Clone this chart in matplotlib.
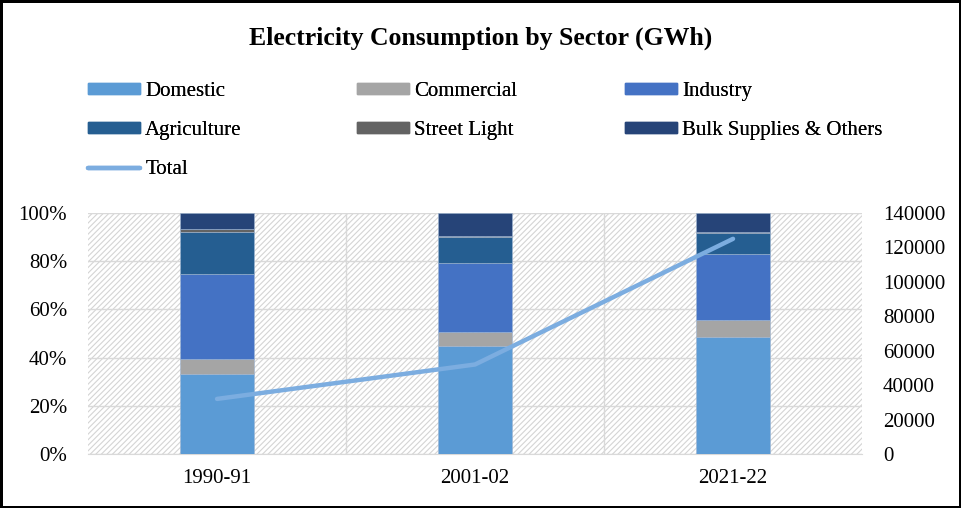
import matplotlib.pyplot as plt
import numpy as np
from matplotlib.lines import Line2D
from matplotlib.patches import Patch, Rectangle

plt.rcParams['font.family'] = ['Liberation Serif', 'DejaVu Serif']
plt.rcParams['hatch.color'] = '#d4d4d4'
plt.rcParams['hatch.linewidth'] = 0.8

years = ['1990-91', '2001-02', '2021-22']
sectors = ['Domestic', 'Commercial', 'Industry', 'Agriculture',
           'Street Light', 'Bulk Supplies & Others']
domestic = [33.0, 44.8, 48.5]
commercial = [6.6, 5.7, 7.3]
industry = [35.1, 28.9, 27.1]
agriculture = [17.5, 10.5, 8.7]
street_light = [1.0, 0.5, 0.4]
bulk = [6.8, 9.6, 8.0]
total = [32000, 52000, 125000]

colors = ['#5b9bd5', '#a5a5a5', '#4472c4', '#255e91', '#636363', '#264478']
line_color = '#7cade0'
fs = 15

fig = plt.figure(figsize=(9.61, 5.08), dpi=100)
fig.patch.set_edgecolor('black')
fig.patch.set_linewidth(2.5)

ax = fig.add_axes([0.0916, 0.1063, 0.8054, 0.4744])
ax.patch.set_facecolor('white')
ax.add_patch(Rectangle((0, 0), 1, 1, transform=ax.transAxes, facecolor='none',
                       edgecolor='#d4d4d4', hatch='//////', linewidth=0, zorder=0))

x = np.arange(len(years))
bottom = np.zeros(len(years))
for vals, c, name in zip([domestic, commercial, industry, agriculture, street_light, bulk],
                         colors, sectors):
    ax.bar(x, vals, 0.29, bottom=bottom, color=c, edgecolor='#9fb6d3',
           linewidth=0.4, zorder=3, label=name)
    bottom += np.array(vals)

ax.set_xlim(-0.5, 2.5)
ax.set_ylim(0, 100)
ax.set_yticks(np.arange(0, 101, 20))
ax.set_yticklabels([f'{v}%' for v in range(0, 101, 20)])
ax.set_xticks(x)
ax.set_xticklabels(years)
ax.set_xticks([0.5, 1.5], minor=True)
ax.grid(axis='y', color='#d9d9d9', linewidth=1, zorder=1)
ax.grid(axis='x', which='minor', color='#d9d9d9', linewidth=1, zorder=1)
ax.tick_params(axis='y', which='both', length=0, labelsize=fs, pad=15)
ax.tick_params(axis='x', which='both', length=0, labelsize=fs, pad=11)
for s in ['top', 'right', 'left']:
    ax.spines[s].set_visible(False)
ax.spines['bottom'].set_color('#d9d9d9')

ax2 = ax.twinx()
ax2.plot(x, total, color=line_color, linewidth=3.2, solid_capstyle='round', zorder=5)
ax2.set_ylim(0, 140000)
ax2.set_yticks(np.arange(0, 140001, 20000))
ax2.tick_params(axis='y', length=0, labelsize=fs, pad=15)
for s in ['top', 'right', 'left', 'bottom']:
    ax2.spines[s].set_visible(False)

fig.text(0.5, 0.925, 'Electricity Consumption by Sector (GWh)', ha='center',
         va='center', fontsize=18.5, fontweight='bold')

h = [Patch(color=c) for c in colors]
tl = Line2D([0], [0], color=line_color, linewidth=3.2, solid_capstyle='round')
columns = [([h[0], h[3], tl], ['Domestic', 'Agriculture', 'Total'], 88),
           ([h[1], h[4]], ['Commercial', 'Street Light'], 357),
           ([h[2], h[5]], ['Industry', 'Bulk Supplies & Others'], 625)]
for handles, labels, px in columns:
    leg = fig.legend(handles, labels, loc='upper left',
                     bbox_to_anchor=(px / 961, 1 - 82 / 508),
                     frameon=False, fontsize=fs, handlelength=2.5, handleheight=0.45,
                     labelspacing=0.97, handletextpad=0.25, borderpad=0,
                     borderaxespad=0)
    fig.add_artist(leg)

fig.savefig('out.png', dpi=100)
